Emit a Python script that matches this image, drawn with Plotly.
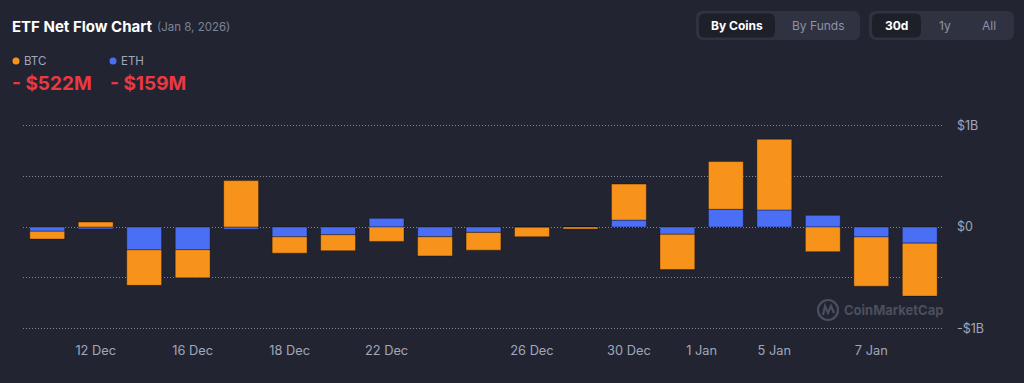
import plotly.graph_objects as go

# ---------------- data (millions USD) ----------------
dates = ["11 Dec", "12 Dec", "15 Dec", "16 Dec", "17 Dec", "18 Dec", "19 Dec",
         "22 Dec", "23 Dec", "24 Dec", "26 Dec", "29 Dec", "30 Dec", "31 Dec",
         "2 Jan", "5 Jan", "6 Jan", "7 Jan", "8 Jan"]
btc_flow = [-77, 49, -350, -277, 457, -161, -158, -142, -189, -175, -93, -19,
            355, -348, 471, 697, -243, -486, -522]
eth_flow = [-42, -19, -225, -224, -22, -97, -76, 85, -96, -53, -3, 0,
            68, -72, 174, 168, 115, -98, -159]
x_tick_pos = [1, 3, 5, 7, 10, 12, 13.5, 15, 17]
x_tick_labels = ["12 Dec", "16 Dec", "18 Dec", "22 Dec", "26 Dec", "30 Dec",
                 "1 Jan", "5 Jan", "7 Jan"]
y_tick_vals = [-1000, -500, 0, 500, 1000]
y_tick_labels = ["-$1B", "", "$0", "", "$1B"]
btc_total = "- $522M"
eth_total = "- $159M"

# ---------------- styling ----------------
BG = "#222531"
ORANGE = "#f7931a"
BLUE = "#4a6ff5"
RED = "#ea3943"
GREY = "#a1a7bb"
GRID = "#80859a"
FONT = "Inter"

W, H = 1024, 383
ML, MR, MT, MB = 23, 80, 124, 53
PW = W - ML - MR
PH = H - MT - MB


def px(x):
    return (x - ML) / PW


def py(y):
    return (H - MB - y) / PH


def rrect(x0, y0, x1, y1, r):
    pts = [
        ("M", [(x0 + r, y0)]),
        ("L", [(x1 - r, y0)]),
        ("Q", [(x1, y0), (x1, y0 + r)]),
        ("L", [(x1, y1 - r)]),
        ("Q", [(x1, y1), (x1 - r, y1)]),
        ("L", [(x0 + r, y1)]),
        ("Q", [(x0, y1), (x0, y1 - r)]),
        ("L", [(x0, y0 + r)]),
        ("Q", [(x0, y0), (x0 + r, y0)]),
    ]
    s = ""
    for cmd, ps in pts:
        s += cmd + " ".join(f"{px(a):.5f},{py(b):.5f}" for a, b in ps) + " "
    return s + "Z"


idx = list(range(len(dates)))

fig = go.Figure()
fig.add_trace(go.Bar(x=idx, y=eth_flow, name="ETH", marker_color=BLUE,
                     marker_line=dict(width=1, color="rgba(0,0,0,0.35)"),
                     hovertext=dates))
fig.add_trace(go.Bar(x=idx, y=btc_flow, name="BTC", marker_color=ORANGE,
                     marker_line=dict(width=1, color="rgba(0,0,0,0.35)"),
                     hovertext=dates))

shapes = []
# button groups
shapes.append(dict(type="path", xref="paper", yref="paper", path=rrect(696, 11, 860, 40, 7),
                   fillcolor="#2e3241", line=dict(width=0), layer="above"))
shapes.append(dict(type="path", xref="paper", yref="paper", path=rrect(699, 13.5, 775, 37.5, 6),
                   fillcolor="#1d2029", line=dict(width=0), layer="above"))
shapes.append(dict(type="path", xref="paper", yref="paper", path=rrect(869, 11, 1014, 40, 7),
                   fillcolor="#2e3241", line=dict(width=0), layer="above"))
shapes.append(dict(type="path", xref="paper", yref="paper", path=rrect(872, 13.5, 921, 37.5, 6),
                   fillcolor="#1d2029", line=dict(width=0), layer="above"))
# legend dots
for cx, col in [(16, ORANGE), (113, BLUE)]:
    shapes.append(dict(type="circle", xref="paper", yref="paper",
                       x0=px(cx - 3.5), x1=px(cx + 3.5), y0=py(64.5), y1=py(57.5),
                       fillcolor=col, line=dict(width=0)))
# watermark logo
shapes.append(dict(type="circle", xref="paper", yref="paper",
                   x0=px(818), x1=px(838), y0=py(320), y1=py(300),
                   line=dict(color="#4a4f5e", width=2.2)))
mpath = "M{:.5f},{:.5f} L{:.5f},{:.5f} L{:.5f},{:.5f} L{:.5f},{:.5f} L{:.5f},{:.5f}".format(
    px(823), py(315), px(825), py(306), px(828), py(313), px(831), py(306), px(834), py(313))
shapes.append(dict(type="path", xref="paper", yref="paper", path=mpath,
                   line=dict(color="#4a4f5e", width=2.2)))

ann = []


def add_text(x, y, text, size, color, anchor="left", weight="normal"):
    ann.append(dict(xref="paper", yref="paper", x=px(x), y=py(y), text=text,
                    showarrow=False, xanchor=anchor, yanchor="middle",
                    font=dict(family=FONT, size=size, color=color, weight=weight)))


add_text(10, 26, "ETF Net Flow Chart", 15, "#ffffff", weight="bold")
add_text(155, 26.5, "(Jan 8, 2026)", 11.5, "#7d8396")
add_text(22, 61, "BTC", 11.5, GREY)
add_text(119, 61, "ETH", 11.5, GREY)
add_text(10, 83, btc_total, 19, RED, weight="bold")
add_text(108, 83, eth_total, 19, RED, weight="bold")
add_text(737, 25.5, "By Coins", 12, "#ffffff", anchor="center", weight="bold")
add_text(818, 25.5, "By Funds", 12, "#8d93a5", anchor="center")
add_text(896, 25.5, "30d", 12, "#ffffff", anchor="center", weight="bold")
add_text(945, 25.5, "1y", 12, "#8d93a5", anchor="center")
add_text(989, 25.5, "All", 12, "#8d93a5", anchor="center")
add_text(842, 310, "CoinMarketCap", 13, "#4a4f5e", weight="bold")

fig.update_layout(
    width=W, height=H,
    margin=dict(l=ML, r=MR, t=MT, b=MB, pad=0),
    paper_bgcolor=BG, plot_bgcolor=BG,
    barmode="relative", bargap=0.28,
    showlegend=False,
    font=dict(family=FONT, color=GREY, size=12),
    shapes=shapes, annotations=ann,
    xaxis=dict(range=[-0.5, len(dates) - 0.5], tickmode="array",
               tickvals=x_tick_pos, ticktext=x_tick_labels,
               showgrid=False, zeroline=False, showline=False, ticks="",
               tickfont=dict(size=12.8, color=GREY, family=FONT),
               ticklabelstandoff=11, fixedrange=True),
    yaxis=dict(range=[-1015, 1015], side="right", tickmode="array",
               tickvals=y_tick_vals, ticktext=y_tick_labels,
               showgrid=True, gridcolor=GRID, griddash="1px,2px", gridwidth=1,
               zeroline=False, showline=False, ticks="",
               tickfont=dict(size=12.5, color=GREY, family=FONT),
               ticklabelstandoff=12, fixedrange=True),
)

fig.write_html("out.html", config={"displayModeBar": False})

# remove default page margin so the chart sits at the window origin
with open("out.html", "r", encoding="utf-8") as f:
    html = f.read()
html = html.replace("<head>", "<head><style>html,body{margin:0;padding:0;background:#222531;overflow:hidden}</style>", 1)
with open("out.html", "w", encoding="utf-8") as f:
    f.write(html)
